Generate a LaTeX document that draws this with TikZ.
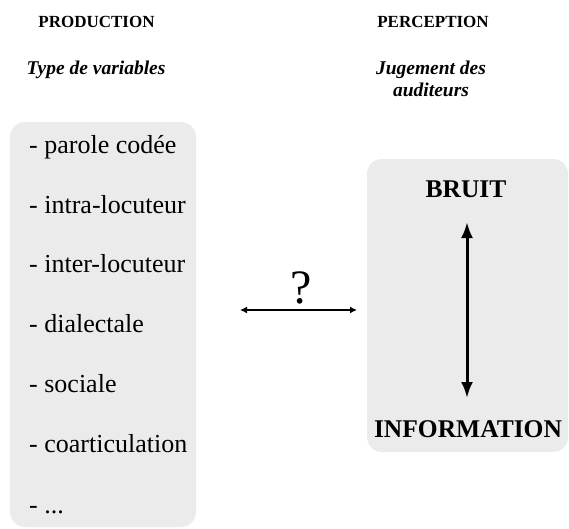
\documentclass[tikz,border=0pt]{standalone}
\usepackage{fontspec}
\setmainfont{Liberation Serif}
\usetikzlibrary{arrows.meta}
\definecolor{boxgray}{RGB}{235,235,235}
\begin{document}
\begin{tikzpicture}[x=1pt,y=-1pt,
  panel/.style={fill=boxgray,draw=none,rounded corners=15pt},
  head/.style={font=\fontsize{17}{20}\selectfont\bfseries,anchor=base,inner sep=0pt},
  sub/.style={font=\fontsize{19.5}{22}\selectfont\bfseries\itshape,anchor=base,inner sep=0pt,align=center},
  item/.style={font=\fontsize{26}{30}\selectfont,anchor=base west,inner sep=0pt},
  pole/.style={font=\fontsize{25.5}{30}\selectfont\bfseries,anchor=base,inner sep=0pt},
  bigarrow/.style={line width=3pt,{Latex[length=16pt,width=12pt]}-{Latex[length=16pt,width=12pt]}},
  smallarrow/.style={line width=2.2pt,{Latex[length=7pt,width=7pt]}-{Latex[length=7pt,width=7pt]}}]
\useasboundingbox (0,0) rectangle (569,528);
\fill[panel] (10,122) rectangle (196,527);
\fill[panel] (367,159) rectangle (568,452);
\node[head] (prod) at (96.5,27) {PRODUCTION};
\node[head] (perc) at (433,27) {PERCEPTION};
\node[sub] (type) at (96,74) {Type de variables};
\node[sub] (jug) at (431,74) {Jugement des};
\node[sub] (aud) at (431,96) {auditeurs};
\node[item] (i1) at (29,153) {- parole codée};
\node[item] (i2) at (29,213) {- intra-locuteur};
\node[item] (i3) at (29,272) {- inter-locuteur};
\node[item] (i4) at (29,332) {- dialectale};
\node[item] (i5) at (29,392) {- sociale};
\node[item] (i6) at (29,452) {- coarticulation};
\node[item] (i7) at (29,513) {- ...};
\node[pole] (bruit) at (466,197) {BRUIT};
\node[pole] (info) at (468,437) {INFORMATION};
\coordinate (vtop) at (467,222);
\coordinate (vbot) at (467,398);
\draw[bigarrow] (vtop) -- (vbot);
\coordinate (hl) at (240,310);
\coordinate (hr) at (357,310);
\draw[smallarrow] (hl) -- (hr);
\node[font=\fontsize{48}{50}\selectfont,anchor=base,inner sep=0pt] (q) at (301,303) {?};
\end{tikzpicture}
\end{document}
